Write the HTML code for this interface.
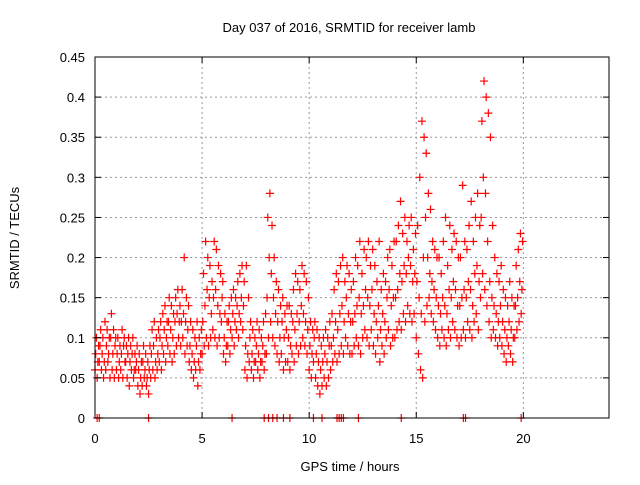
<!DOCTYPE html>
<html><head><meta charset="utf-8"><style>
body{margin:0;background:#fff;}
svg text{font-family:"Liberation Sans",sans-serif;font-size:13px;fill:#000;}
</style></head><body>
<svg id="chart" width="640" height="480" xmlns="http://www.w3.org/2000/svg">
<rect width="640" height="480" fill="#fff"/>
<g id="grid"></g>
<g id="pts"></g>
<g id="axes"></g>
<text x="349" y="32" text-anchor="middle">Day 037 of 2016, SRMTID for receiver lamb</text>
<text transform="translate(19,238) rotate(-90)" text-anchor="middle">SRMTID / TECUs</text>
<text x="350" y="471" text-anchor="middle">GPS time / hours</text>
</svg>
<script>
const xTicks=[0,5,10,15,20];
const yTicks=[0,0.05,0.1,0.15,0.2,0.25,0.3,0.35,0.4,0.45];
const yTickLabels=["0","0.05","0.1","0.15","0.2","0.25","0.3","0.35","0.4","0.45"];
const seriesLow=[.06,.05,.07,.06,.05,.06,.07,.05,.06,.05,.06,.05,.06,.05,.07,.05,.04,.06,.05,.06,.04,.03,.04,.05,.04,.03,.05,.06,.05,.06,.07,.06,.08,.07,.09,.08,.07,.08,.09,.10,.09,.10,.08,.09,.07,.06,.05,.06,.04,.06,.08,.09,.10,.09,.10,.11,.10,.09,.10,.12,.08,.07,.09,.08,.10,.09,.11,.10,.12,.11,.06,.05,.07,.06,.05,.07,.06,.05,.07,.06,.08,.10,.12,.10,.09,.08,.07,.08,.06,.07,.07,.06,.08,.07,.09,.08,.09,.10,.09,.08,.06,.05,.07,.05,.04,.03,.04,.05,.04,.05,.06,.07,.08,.07,.08,.09,.08,.10,.09,.08,.08,.09,.10,.09,.08,.10,.11,.10,.09,.11,.09,.08,.10,.07,.09,.08,.10,.11,.09,.10,.10,.11,.12,.11,.13,.12,.14,.13,.12,.13,.10,.08,.06,.05,.12,.14,.15,.13,.12,.11,.10,.09,.11,.10,.09,.11,.10,.12,.11,.10,.09,.10,.11,.10,.12,.11,.10,.12,.13,.11,.15,.18,.16,.14,.12,.10,.11,.10,.09,.10,.09,.08,.07,.09,.08,.07,.10,.11,.12,.13];
const seriesMid=[.08,.07,.09,.08,.07,.09,.08,.10,.08,.09,.08,.07,.08,.09,.07,.08,.07,.08,.06,.07,.06,.05,.07,.06,.05,.06,.08,.09,.07,.08,.10,.09,.11,.10,.12,.11,.10,.12,.13,.12,.12,.13,.12,.11,.09,.08,.07,.09,.07,.08,.12,.14,.16,.15,.13,.15,.16,.14,.13,.15,.10,.09,.12,.11,.13,.12,.14,.13,.15,.14,.09,.08,.10,.08,.07,.09,.08,.07,.09,.08,.15,.20,.18,.15,.13,.12,.10,.12,.10,.11,.10,.09,.12,.11,.13,.12,.14,.13,.12,.11,.09,.08,.10,.08,.07,.06,.07,.08,.07,.09,.09,.10,.12,.11,.13,.14,.12,.15,.13,.12,.12,.13,.14,.15,.13,.14,.16,.15,.14,.16,.13,.12,.14,.11,.13,.12,.15,.16,.14,.15,.15,.16,.18,.17,.19,.18,.20,.19,.17,.18,.17,.15,.13,.20,.25,.20,.18,.17,.16,.15,.14,.13,.15,.14,.13,.16,.15,.17,.16,.14,.14,.15,.16,.15,.17,.16,.14,.18,.19,.17,.25,.30,.28,.22,.17,.15,.14,.13,.12,.14,.12,.11,.10,.12,.11,.10,.14,.15,.17,.16];
const seriesHigh=[.10,.09,.11,.10,.12,.11,.10,.13,.11,.10,.10,.09,.11,.10,.09,.10,.09,.10,.08,.09,.08,.07,.09,.08,.07,.09,.11,.12,.10,.11,.12,.13,.14,.12,.15,.14,.13,.15,.16,.14,.16,.20,.15,.14,.12,.11,.10,.12,.10,.11,.18,.22,.20,.19,.17,.22,.21,.19,.18,.17,.13,.12,.14,.15,.16,.15,.17,.18,.19,.17,.19,.15,.12,.11,.10,.12,.11,.10,.12,.13,.25,.28,.24,.20,.17,.16,.14,.15,.13,.14,.14,.13,.16,.18,.17,.16,.19,.18,.17,.15,.12,.11,.12,.11,.10,.09,.10,.11,.10,.12,.13,.16,.18,.17,.19,.20,.17,.19,.18,.16,.17,.20,.19,.22,.18,.21,.20,.22,.19,.21,.19,.17,.22,.16,.18,.17,.20,.21,.19,.22,.22,.24,.27,.23,.25,.22,.24,.25,.21,.23,.24,.30,.37,.35,.33,.28,.26,.22,.21,.20,.20,.18,.22,.25,.19,.24,.21,.23,.22,.20,.20,.29,.22,.21,.24,.27,.22,.25,.28,.24,.37,.42,.40,.38,.35,.24,.20,.18,.17,.19,.16,.15,.14,.17,.15,.14,.19,.21,.23,.22];
const zeroTimes=[0.1,0.2,2.5,6.4,7.9,8.1,8.3,8.5,8.8,9.1,10.2,10.6,11.3,11.4,11.5,11.6,12.3,14.3,17.2,17.3,19.9];
const L=95,R=609,T=57,B=418;
const xs=v=>L+v*(R-L)/24;
const ys=v=>B-v*(B-T)/0.45;
const NS="http://www.w3.org/2000/svg";
function mk(tag,attrs,parent){const e=document.createElementNS(NS,tag);for(const k in attrs)e.setAttribute(k,attrs[k]);parent.appendChild(e);return e;}
const grid=document.getElementById('grid'),axes=document.getElementById('axes'),pts=document.getElementById('pts');
yTicks.forEach((v,i)=>{
  const y=ys(v);
  if(i>0&&i<yTicks.length-1){const g=mk('line',{x1:L,x2:R,y1:y,y2:y,stroke:'#999','stroke-dasharray':'2,3'},grid);
  
  }
  mk('line',{x1:L,x2:L+6,y1:y,y2:y,stroke:'#000'},axes);
  mk('line',{x1:R,x2:R-6,y1:y,y2:y,stroke:'#000'},axes);
  const t=mk('text',{x:L-10,y:y+5,'text-anchor':'end'},axes);t.textContent=yTickLabels[i];
  
  
});
xTicks.forEach(v=>{
  const x=xs(v);
  if(v>0){const g=mk('line',{x1:x,x2:x,y1:T,y2:B,stroke:'#999','stroke-dasharray':'2,3'},grid);
  
  }
  mk('line',{x1:x,x2:x,y1:B,y2:B-6,stroke:'#000'},axes);
  mk('line',{x1:x,x2:x,y1:T,y2:T+6,stroke:'#000'},axes);
  const t=mk('text',{x:x,y:B+25,'text-anchor':'middle'},axes);t.textContent=String(v);
  
  
});
const fr=mk('rect',{x:L,y:T,width:R-L,height:B-T,fill:'none',stroke:'#000'},axes);


function plus(t,v){
  const x=xs(t),y=ys(v);
  const p=mk('path',{d:`M${x-4},${y}H${x+4}M${x},${y-4}V${y+4}`,stroke:'#f00','stroke-width':1.2,fill:'none'},pts);
  
  
}
[seriesLow,seriesMid,seriesHigh].forEach((arr,k)=>{
  arr.forEach((v,i)=>plus(i*0.1+k*0.033,v));
});
zeroTimes.forEach(t=>plus(t,0));
</script>
</body></html>
